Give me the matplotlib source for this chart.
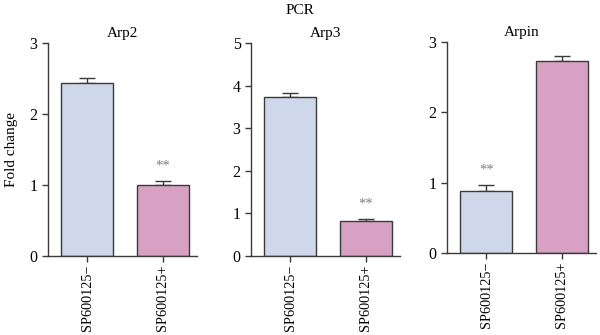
import matplotlib
matplotlib.use("Agg")
import matplotlib.pyplot as plt

plt.rcParams['font.family'] = ['Liberation Serif', 'DejaVu Serif']

# 数据
genes = ["Arp2", "Arp3", "Arpin"]
groups = ["SP600125\u2212", "SP600125+"]
means = [[2.43, 1.00], [3.73, 0.83], [0.88, 2.73]]
errs = [[0.08, 0.06], [0.09, 0.03], [0.08, 0.07]]
ymax = [3, 5, 3]
stars = [[None, "**"], [None, "**"], ["**", None]]

colors = ["#cfd8ea", "#d8a0c2"]
edge = "#3a3a3a"

fig = plt.figure(figsize=(6.0, 3.35), dpi=100)
W, H = 600, 335
# 各子图位置 (像素): 左边, y=0 的位置, y=max 的位置
boxes = [(48, 256, 43), (251, 256, 43), (447, 253, 42)]

for i, gene in enumerate(genes):
    left, y0, y1 = boxes[i]
    ax = fig.add_axes([left / W, (H - y0) / H, 149 / W, (y0 - y1) / H])
    x = [0, 1]
    ax.bar(x, means[i], width=0.69, color=colors, edgecolor=edge, linewidth=1.0, zorder=2)
    ax.errorbar(x, means[i], yerr=[[0, 0], errs[i]], fmt="none", ecolor=edge,
                elinewidth=1.0, capsize=6, capthick=1.0, zorder=1)
    for j in range(2):
        if stars[i][j]:
            ax.text(x[j], means[i][j] + errs[i][j] + 0.04 * ymax[i], stars[i][j],
                    ha="center", va="bottom", fontsize=10.5, color="#808080")
    ax.set_xlim(-0.52, 1.45)
    ax.set_ylim(0, ymax[i])
    ax.set_yticks(range(ymax[i] + 1))
    ax.set_xticks(x)
    ax.set_xticklabels(groups, rotation=90, fontsize=10.3)
    ax.tick_params(axis="y", labelsize=11.5, length=4, width=1.0, color=edge)
    ax.tick_params(axis="x", length=4, width=1.0, color=edge, pad=2.5)
    for s in ["top", "right"]:
        ax.spines[s].set_visible(False)
    for s in ["left", "bottom"]:
        ax.spines[s].set_color(edge)
        ax.spines[s].set_linewidth(1.0)
    ax.set_title(gene, fontsize=11, pad=4)
    if i == 0:
        ax.set_ylabel("Fold change", fontsize=11, labelpad=8)

fig.text(0.5, 1 - 11 / H, "PCR", ha="center", va="center", fontsize=11)

fig.savefig("out.png", dpi=100)
